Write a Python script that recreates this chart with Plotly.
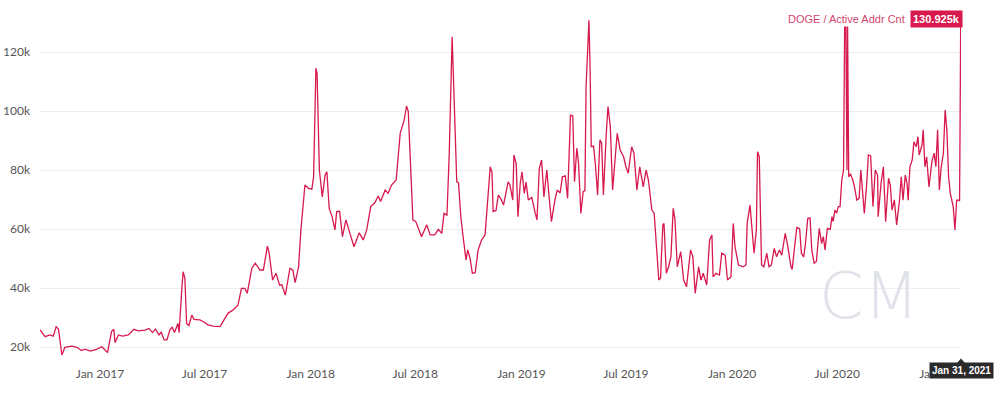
import plotly.graph_objects as go

# ---- data (DOGE active address count, thousands) ----
dates = [
    "2016-09-19", "2016-09-28", "2016-10-06", "2016-10-12", "2016-10-17", "2016-10-21", "2016-10-27",
    "2016-11-01", "2016-11-13", "2016-11-22", "2016-11-30", "2016-12-06", "2016-12-15", "2016-12-26",
    "2017-01-04", "2017-01-07", "2017-01-14", "2017-01-21", "2017-01-25", "2017-01-27", "2017-02-02",
    "2017-02-09", "2017-02-19", "2017-03-01", "2017-03-08", "2017-03-20", "2017-03-27", "2017-04-02",
    "2017-04-07", "2017-04-13", "2017-04-17", "2017-04-22", "2017-04-27", "2017-05-02", "2017-05-06",
    "2017-05-10", "2017-05-16", "2017-05-18", "2017-05-23", "2017-05-25", "2017-05-28", "2017-05-31",
    "2017-06-04", "2017-06-09", "2017-06-13", "2017-06-23", "2017-06-30", "2017-07-07", "2017-07-16",
    "2017-07-28", "2017-08-02", "2017-08-11", "2017-08-19", "2017-08-28", "2017-09-03", "2017-09-09",
    "2017-09-13", "2017-09-21", "2017-09-27", "2017-10-05", "2017-10-11", "2017-10-18", "2017-10-21",
    "2017-10-27", "2017-11-02", "2017-11-08", "2017-11-12", "2017-11-18", "2017-11-26", "2017-12-01",
    "2017-12-05", "2017-12-11", "2017-12-15", "2017-12-22", "2017-12-28", "2018-01-03", "2018-01-06",
    "2018-01-10", "2018-01-12", "2018-01-16", "2018-01-21", "2018-01-26", "2018-01-29", "2018-02-02",
    "2018-02-07", "2018-02-12", "2018-02-15", "2018-02-20", "2018-02-25", "2018-03-03", "2018-03-09",
    "2018-03-17", "2018-03-26", "2018-04-02", "2018-04-08", "2018-04-15", "2018-04-22", "2018-04-28",
    "2018-05-02", "2018-05-10", "2018-05-15", "2018-05-21", "2018-05-29", "2018-06-05", "2018-06-12",
    "2018-06-16", "2018-06-19", "2018-06-27", "2018-07-02", "2018-07-12", "2018-07-21", "2018-07-27",
    "2018-08-04", "2018-08-10", "2018-08-16", "2018-08-20", "2018-08-25", "2018-08-29", "2018-09-03",
    "2018-09-08", "2018-09-11", "2018-09-14", "2018-09-18", "2018-09-22", "2018-09-27", "2018-09-30",
    "2018-10-04", "2018-10-08", "2018-10-13", "2018-10-18", "2018-10-24", "2018-10-30", "2018-11-05",
    "2018-11-08", "2018-11-11", "2018-11-13", "2018-11-18", "2018-11-22", "2018-11-26", "2018-12-01",
    "2018-12-09", "2018-12-12", "2018-12-17", "2018-12-19", "2018-12-23", "2018-12-26", "2018-12-30",
    "2019-01-02", "2019-01-06", "2019-01-09", "2019-01-13", "2019-01-19", "2019-01-25", "2019-01-28",
    "2019-02-01", "2019-02-05", "2019-02-09", "2019-02-14", "2019-02-18", "2019-02-22", "2019-02-28",
    "2019-03-04", "2019-03-09", "2019-03-13", "2019-03-18", "2019-03-22", "2019-03-27", "2019-03-31",
    "2019-04-03", "2019-04-07", "2019-04-10", "2019-04-14", "2019-04-18", "2019-04-21", "2019-04-23",
    "2019-04-26", "2019-04-28", "2019-04-30", "2019-05-02", "2019-05-06", "2019-05-09", "2019-05-13",
    "2019-05-17", "2019-05-20", "2019-05-23", "2019-05-28", "2019-05-31", "2019-06-04", "2019-06-08",
    "2019-06-14", "2019-06-16", "2019-06-21", "2019-06-27", "2019-07-01", "2019-07-05", "2019-07-11",
    "2019-07-15", "2019-07-20", "2019-07-25", "2019-07-31", "2019-08-05", "2019-08-09", "2019-08-15",
    "2019-08-19", "2019-08-23", "2019-08-27", "2019-08-30", "2019-09-03", "2019-09-05", "2019-09-09",
    "2019-09-13", "2019-09-17", "2019-09-21", "2019-09-24", "2019-09-28", "2019-10-04", "2019-10-09",
    "2019-10-14", "2019-10-21", "2019-10-25", "2019-10-29", "2019-11-04", "2019-11-08", "2019-11-12",
    "2019-11-18", "2019-11-23", "2019-11-27", "2019-11-29", "2019-12-04", "2019-12-10", "2019-12-14",
    "2019-12-20", "2019-12-24", "2019-12-30", "2020-01-03", "2020-01-06", "2020-01-12", "2020-01-20",
    "2020-01-25", "2020-01-27", "2020-02-01", "2020-02-04", "2020-02-08", "2020-02-12", "2020-02-14",
    "2020-02-17", "2020-02-21", "2020-02-25", "2020-03-01", "2020-03-05", "2020-03-09", "2020-03-14",
    "2020-03-18", "2020-03-23", "2020-03-27", "2020-04-02", "2020-04-06", "2020-04-12", "2020-04-14",
    "2020-04-22", "2020-04-27", "2020-04-30", "2020-05-04", "2020-05-07", "2020-05-11", "2020-05-15",
    "2020-05-18", "2020-05-22", "2020-05-26", "2020-05-31", "2020-06-04", "2020-06-07", "2020-06-10",
    "2020-06-14", "2020-06-19", "2020-06-22", "2020-06-24", "2020-06-27", "2020-06-30", "2020-07-03",
    "2020-07-06", "2020-07-09", "2020-07-12", "2020-07-14", "2020-07-16", "2020-07-18", "2020-07-19",
    "2020-07-21", "2020-07-24", "2020-07-28", "2020-07-31", "2020-08-04", "2020-08-08", "2020-08-11",
    "2020-08-14", "2020-08-17", "2020-08-21", "2020-08-24", "2020-08-28", "2020-09-01", "2020-09-05",
    "2020-09-09", "2020-09-10", "2020-09-15", "2020-09-19", "2020-09-23", "2020-09-28", "2020-10-01",
    "2020-10-04", "2020-10-08", "2020-10-12", "2020-10-17", "2020-10-20", "2020-10-23", "2020-10-27",
    "2020-10-30", "2020-11-01", "2020-11-04", "2020-11-08", "2020-11-11", "2020-11-15", "2020-11-18",
    "2020-11-20", "2020-11-25", "2020-11-27", "2020-11-30", "2020-12-03", "2020-12-07", "2020-12-12",
    "2020-12-16", "2020-12-19", "2020-12-22", "2020-12-25", "2020-12-28", "2021-01-01", "2021-01-04",
    "2021-01-07", "2021-01-10", "2021-01-13", "2021-01-16", "2021-01-18", "2021-01-21", "2021-01-24",
    "2021-01-27", "2021-01-29", "2021-01-30", "2021-01-31",
]
active_addr_k = [
    25.8, 23.5, 24.1, 23.7, 26.9, 26.1, 17.3,
    19.9, 20.3, 19.9, 18.8, 19.3, 18.6, 19.2,
    20.1, 19.6, 18.1, 25.2, 26.0, 21.5, 24.1,
    23.7, 24.1, 26.0, 25.5, 25.7, 26.3, 24.9,
    26.1, 24.1, 25.0, 22.4, 22.4, 25.8, 26.7,
    24.9, 28.0, 24.9, 40.4, 45.5, 43.3, 28.0,
    27.3, 30.8, 29.4, 29.2, 28.5, 27.5, 27.1,
    26.9, 28.6, 31.5, 32.5, 34.2, 39.9, 39.9,
    38.2, 46.7, 48.4, 46.1, 46.1, 54.2, 51.8,
    42.7, 45.0, 41.0, 41.1, 37.6, 46.7, 46.1,
    41.8, 47.2, 59.7, 74.9, 73.8, 73.5, 77.7,
    114.5, 112.8, 80.0, 70.9, 78.3, 79.4, 67.0,
    64.2, 59.7, 65.9, 66.0, 57.4, 63.1, 59.1,
    54.0, 58.7, 56.3, 59.7, 67.6, 68.9, 71.2,
    69.3, 73.2, 72.1, 74.9, 76.6, 92.4, 97.0,
    101.7, 99.8, 63.1, 62.5, 57.4, 61.4, 58.0,
    58.0, 59.9, 58.5, 65.3, 64.7, 85.7, 125.2,
    97.0, 76.0, 75.7, 64.2, 57.4, 49.5, 52.9,
    50.1, 45.0, 45.2, 52.9, 56.3, 58.0, 74.3,
    81.1, 79.3, 65.9, 66.3, 71.5, 70.4, 68.1,
    76.0, 75.0, 69.8, 85.1, 82.0, 64.2, 75.5,
    79.4, 72.1, 75.9, 69.8, 70.7, 65.3, 63.1,
    80.6, 83.4, 70.9, 80.0, 70.9, 62.5, 69.8,
    73.2, 72.2, 77.7, 78.0, 70.4, 98.6, 98.3,
    76.0, 87.4, 82.3, 65.3, 72.7, 73.0, 108.2,
    124.0, 130.8, 113.9, 87.9, 88.1, 82.3, 71.5,
    90.2, 89.1, 71.5, 92.4, 101.5, 94.7, 73.2,
    87.9, 92.4, 86.8, 84.5, 81.1, 78.9, 87.9,
    85.7, 73.2, 81.1, 74.3, 80.0, 76.6, 66.4,
    65.3, 52.9, 42.7, 43.4, 61.4, 61.9, 45.0,
    47.2, 50.6, 67.0, 63.1, 47.2, 52.3, 42.7,
    40.4, 52.9, 50.6, 38.2, 47.2, 42.7, 45.0,
    41.0, 56.3, 58.0, 43.8, 45.0, 44.4, 51.8,
    51.1, 42.7, 43.8, 61.9, 54.0, 47.8, 47.2,
    47.8, 61.9, 68.1, 61.9, 51.8, 59.7, 86.2,
    84.5, 47.8, 47.2, 51.8, 47.2, 47.8, 53.4,
    50.6, 52.9, 51.1, 58.5, 54.6, 47.2, 46.3,
    60.5, 60.1, 51.8, 50.5, 55.1, 63.6, 63.7,
    52.9, 48.4, 49.0, 60.2, 55.1, 57.4, 52.9,
    60.2, 59.9, 64.2, 62.6, 66.4, 65.4, 67.6,
    67.6, 76.6, 80.0, 129.5, 129.5, 80.0, 129.5,
    77.7, 78.7, 76.6, 74.3, 69.8, 70.4, 80.0,
    73.7, 65.3, 74.9, 85.1, 84.8, 67.6, 80.0,
    78.3, 64.2, 75.5, 81.1, 62.5, 77.2, 74.9,
    66.4, 69.9, 61.4, 69.8, 77.7, 69.8, 78.3,
    75.5, 69.8, 81.1, 83.4, 89.6, 87.9, 91.3,
    85.1, 88.5, 93.6, 81.1, 84.5, 74.3, 82.8,
    85.7, 81.1, 93.6, 73.2, 80.6, 85.7, 100.3,
    93.6, 77.7, 72.1, 69.8, 67.6, 59.7, 69.8,
    69.8, 69.5, 98.0, 130.925,
]

x_tick_vals = ["2017-01-01", "2017-07-01", "2018-01-01", "2018-07-01", "2019-01-01",
               "2019-07-01", "2020-01-01", "2020-07-01", "2021-01-01"]
x_tick_text = ["Jan 2017", "Jul 2017", "Jan 2018", "Jul 2018", "Jan 2019",
               "Jul 2019", "Jan 2020", "Jul 2020", "Jan 2021"]
y_tick_vals = [20, 40, 60, 80, 100, 120]
y_tick_text = ["20k", "40k", "60k", "80k", "100k", "120k"]

series_name = "DOGE / Active Addr Cnt"
last_value_label = "130.925k"
last_date_label = "Jan 31, 2021"

# ---- layout helpers (pixel -> paper) ----
W, H = 1001, 394
ML, MR, MT, MB = 40, 40, 10, 32
PW, PH = W - ML - MR, H - MT - MB


def px(x):
    return (x - ML) / PW


def py(y):
    return (H - MB - y) / PH


RED = "#d7194e"

fig = go.Figure()
fig.add_trace(go.Scatter(
    x=dates, y=active_addr_k, mode="lines",
    line=dict(color=RED, width=1.3),
    name=series_name, hoverinfo="skip",
))

fig.update_layout(
    width=W, height=H,
    margin=dict(l=ML, r=MR, t=MT, b=MB, autoexpand=False),
    paper_bgcolor="white", plot_bgcolor="white",
    showlegend=False,
    font=dict(family="Lato", size=12, color="#555"),
    xaxis=dict(
        range=["2016-09-19 01:00", "2021-01-31 12:00"],
        tickmode="array", tickvals=x_tick_vals, ticktext=x_tick_text,
        showgrid=False, zeroline=False, showline=False, ticks="",
        ticklabelstandoff=3,
        tickfont=dict(family="Lato", size=12, color="#555"),
    ),
    yaxis=dict(
        range=[14.92, 134.24],
        tickmode="array", tickvals=y_tick_vals, ticktext=y_tick_text,
        showgrid=True, gridcolor="#eeeeee", gridwidth=1,
        zeroline=False, showline=False, ticks="",
        ticklabelstandoff=9,
        tickfont=dict(family="Lato", size=12, color="#555"),
    ),
)

# watermark
fig.add_annotation(
    xref="paper", yref="paper", x=px(869), y=py(296), text="CM",
    showarrow=False, xanchor="center", yanchor="middle",
    font=dict(family="DejaVu Sans", size=64, color="#e1e3ea", weight=200),
)

# series label + value badge
fig.add_annotation(
    xref="paper", yref="paper", x=px(907), y=py(18.5), text=series_name,
    showarrow=False, xanchor="right", yanchor="middle",
    bgcolor="white", borderpad=1,
    font=dict(family="Liberation Sans", size=11, color="#d1466f"),
)
fig.add_annotation(
    xref="paper", yref="paper", x=px(910), y=py(18.5), text="<b>" + last_value_label + "</b>",
    showarrow=False, xanchor="left", yanchor="middle",
    bgcolor=RED, borderpad=2,
    font=dict(family="Liberation Sans", size=11, color="white"),
)
fig.add_shape(
    type="path", xref="paper", yref="paper",
    path=f"M {px(955)} {py(11)} L {px(961)} {py(18.5)} L {px(955)} {py(26)} Z",
    fillcolor=RED, line=dict(width=0),
)

# date badge on x axis
fig.add_annotation(
    xref="paper", yref="paper", x=px(994), y=py(370.5), text="<b>" + last_date_label + "</b>",
    showarrow=False, xanchor="right", yanchor="middle",
    bgcolor="#2a2a2a", borderpad=2,
    font=dict(family="Liberation Sans", size=10, color="white"),
)
fig.add_shape(
    type="path", xref="paper", yref="paper",
    path=f"M {px(957)} {py(363)} L {px(961)} {py(358.5)} L {px(965)} {py(363)} Z",
    fillcolor="#2a2a2a", line=dict(width=0),
)

fig.write_html("out.html", config={"displayModeBar": False},
               post_script="document.body.style.margin='0';")
